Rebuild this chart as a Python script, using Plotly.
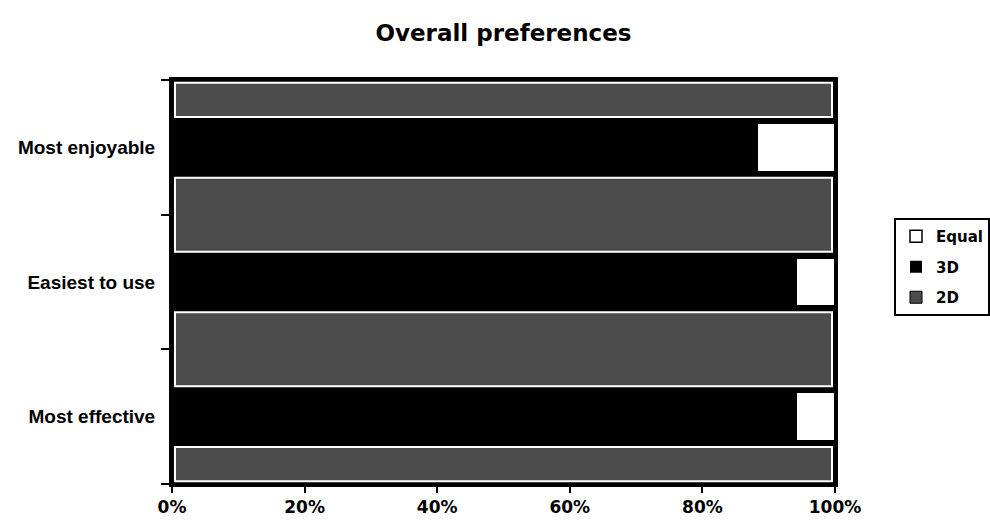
import plotly.graph_objects as go

# Survey answers (number of participants), bottom category first
categories = ["Most effective", "Easiest to use", "Most enjoyable"]
pref_2d = [0, 0, 0]
pref_3d = [16, 16, 15]
pref_equal = [1, 1, 2]

x_ticks = [0, 20, 40, 60, 80, 100]
x_tick_labels = ["0%", "20%", "40%", "60%", "80%", "100%"]

BAR_WIDTH = 0.36
BAND_FILL = "#4c4c4c"
HEAVY = "DejaVu Sans"

fig = go.Figure()
fig.add_trace(go.Bar(y=categories, x=pref_2d, name="2D", orientation="h",
                     legendgroup="2d", legendrank=3, width=BAR_WIDTH,
                     marker=dict(color=BAND_FILL, line=dict(color="black", width=1))))
fig.add_trace(go.Bar(y=categories, x=pref_3d, name="3D", orientation="h",
                     legendgroup="3d", legendrank=2, width=BAR_WIDTH,
                     marker=dict(color="black", line=dict(width=0))))
fig.add_trace(go.Bar(y=categories, x=pref_equal, name="Equal", orientation="h",
                     legendgroup="eq", legendrank=1, width=BAR_WIDTH,
                     marker=dict(color="white", line=dict(color="black", width=1.5))))

# Patterned plot-area bands showing through the gaps between the bars
n = len(categories)
half = BAR_WIDTH / 2
inset = 0.045
edge = 0.02
bands = [(-0.5 + edge, -half - inset)]
for i in range(n - 1):
    bands.append((i + half + inset, i + 1 - half - inset))
bands.append((n - 1 + half + inset, n - 0.5 - edge))
shapes = [
    dict(type="rect", xref="x", yref="y", x0=0.45, x1=99.55, y0=lo, y1=hi,
         fillcolor=BAND_FILL, line=dict(color="white", width=2), layer="below")
    for lo, hi in bands
]

fig.update_layout(
    width=990, height=522,
    barmode="stack", barnorm="percent",
    paper_bgcolor="white", plot_bgcolor="black",
    margin=dict(l=172, r=155, t=80, b=38, autoexpand=False),
    title=dict(text="<b>Overall preferences</b>", x=0.5, xref="paper",
               y=1 - 33 / 522, yref="container", yanchor="middle", xanchor="center",
               font=dict(family=HEAVY, size=23, color="black")),
    shapes=shapes,
    legend=dict(x=894 / 990, xref="container", y=1 - 218 / 522, yref="container",
                xanchor="left", yanchor="top", traceorder="grouped",
                tracegroupgap=8,
                bordercolor="black", borderwidth=2, bgcolor="white",
                font=dict(family=HEAVY, size=15, color="black", weight="bold")),
    showlegend=True,
)

fig.update_xaxes(range=[0, 100], tickvals=x_ticks, ticktext=x_tick_labels,
                 ticks="outside", ticklen=6, tickwidth=2, tickcolor="black",
                 ticklabelstandoff=0, automargin=False,
                 showgrid=False, zeroline=False,
                 showline=True, mirror=True, linecolor="black", linewidth=3,
                 tickfont=dict(family=HEAVY, size=17, color="black", weight="bold"))
fig.update_yaxes(categoryorder="array", categoryarray=categories,
                 range=[-0.5, n - 0.5], tickson="boundaries",
                 ticks="outside", ticklen=8, tickwidth=2, tickcolor="black",
                 ticklabelstandoff=10, automargin=False,
                 showgrid=False, zeroline=False,
                 showline=True, mirror=True, linecolor="black", linewidth=3,
                 tickfont=dict(family="Liberation Sans", size=19, color="black",
                               weight="bold"))

fig.write_html("out.html")
